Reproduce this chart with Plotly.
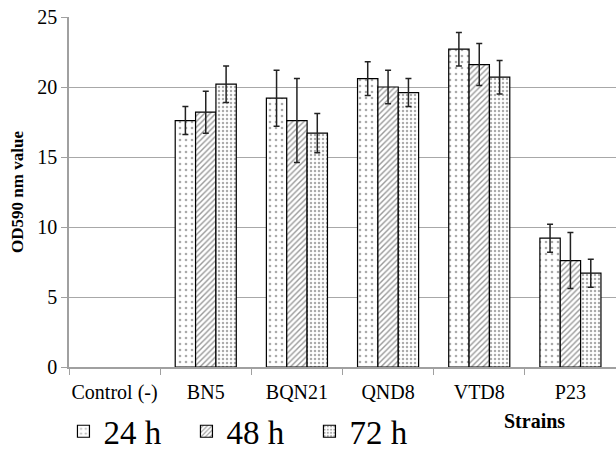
import plotly.graph_objects as go

categories = ["Control (-)", "BN5", "BQN21", "QND8", "VTD8", "P23"]
series_names = ["24 h", "48 h", "72 h"]
v24 = [0, 17.6, 19.2, 20.6, 22.7, 9.2]
v48 = [0, 18.2, 17.6, 20.0, 21.6, 7.6]
v72 = [0, 20.2, 16.7, 19.6, 20.7, 6.7]
e24 = [0, 1.0, 2.0, 1.2, 1.2, 1.0]
e48 = [0, 1.5, 3.0, 1.2, 1.5, 2.0]
e72 = [0, 1.3, 1.4, 1.0, 1.2, 1.0]
y_ticks = [0, 5, 10, 15, 20, 25]

FONT = "Liberation Serif"
patterns = [
    dict(shape=".", size=6, solidity=0.15, fgcolor="#555555", bgcolor="white"),
    dict(shape="/", size=4, solidity=0.35, fgcolor="#333333", bgcolor="white"),
    dict(shape=".", size=4, solidity=0.3, fgcolor="#555555", bgcolor="white"),
]

fig = go.Figure()
for name, vals, errs, pat in zip(series_names, [v24, v48, v72], [e24, e48, e72], patterns):
    # zero-valued (Control) bars are not drawn in the reference
    y_shown = [v if v != 0 else None for v in vals]
    fig.add_trace(go.Bar(
        x=categories, y=y_shown, name=name,
        marker=dict(color="white", pattern=pat, line=dict(color="black", width=1.2)),
        error_y=dict(type="data", array=errs, visible=True, color="#222222", thickness=1.5, width=3),
    ))

fig.update_layout(
    width=616, height=454,
    barmode="group", bargap=0.33, bargroupgap=0,
    paper_bgcolor="white", plot_bgcolor="white",
    margin=dict(l=69, r=0, t=17, b=87, autoexpand=False),
    font=dict(family=FONT, color="black", size=20),
    showlegend=True,
    legend=dict(orientation="h", xref="container", yref="container",
                x=0.103, xanchor="left", y=0.05, yanchor="middle",
                font=dict(family=FONT, size=33), itemwidth=30,
                entrywidth=78, entrywidthmode="pixels",
                bgcolor="rgba(0,0,0,0)"),
    annotations=[dict(text="<b>Strains</b>", xref="paper", yref="paper",
                      x=(534 - 69) / 547, y=(367 - 421) / 350, xanchor="center", yanchor="middle",
                      showarrow=False, font=dict(family=FONT, size=20))],
)
fig.update_xaxes(
    showline=True, linecolor="#a0a0a0", linewidth=1.5, automargin=False,
    ticks="outside", tickson="boundaries", ticklen=6, tickcolor="#a0a0a0",
    tickfont=dict(family=FONT, size=20), showgrid=False, ticklabelstandoff=6, tickangle=0,
)
fig.update_yaxes(
    range=[0, 25], tickvals=y_ticks, showgrid=True, gridcolor="#a8a8a8", gridwidth=1.2,
    showline=True, linecolor="#a0a0a0", linewidth=1.5, automargin=False,
    ticks="outside", ticklen=6, tickcolor="#a0a0a0",
    tickfont=dict(family=FONT, size=20), zeroline=False,
    title=dict(text="<b>OD590 nm value</b>", font=dict(family=FONT, size=17), standoff=9),
)
fig.write_html("out.html", config={"displayModeBar": False},
               post_script="document.body.style.margin='0';")
